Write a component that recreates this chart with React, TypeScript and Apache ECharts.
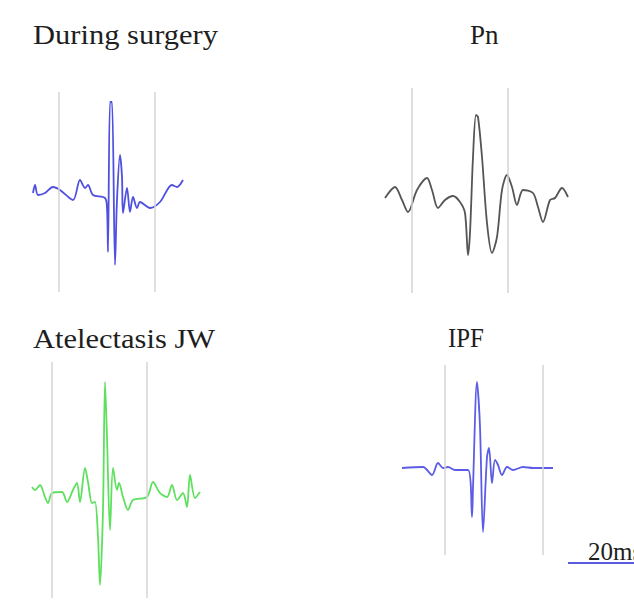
import React, { useEffect, useRef } from "react";
import * as echarts from "echarts";

// Waveforms: [time offset from left reference line, amplitude above baseline] (arbitrary units)
const surgeryWave: number[][] = [
  [-26, 0], [-24, 8], [-21, -2], [-14, 0], [-6, 6], [1, 3], [14, -7], [21, 13], [26, 5], [29, 8],
  [34, -2], [46, -5], [48, -15], [49, -59], [51, 91], [53, 91], [56, -72], [58, -7], [61, 38], [63, 16],
  [64, -20], [68, 5], [71, -19], [74, -4], [78, -15], [81, -9], [91, -15], [101, -9], [113, 8], [118, 6], [124, 13],
];
const pnWave: number[][] = [
  [-27, -1], [-17, 10], [-10, -3], [-4, -15], [5, 7], [15, 19], [20, 7], [26, -11], [33, -3], [41, 1],
  [48, -5], [53, -16], [56, -58], [58, -36], [61, 40], [64, 82], [66, 80], [70, 40], [75, -26], [80, -56],
  [85, -40], [90, 7], [95, 22], [100, 10], [105, -8], [111, 7], [121, 4], [126, -10], [131, -25], [138, -3],
  [143, -1], [150, 9], [156, 0],
];
const atelectasisWave: number[][] = [
  [-20, 6], [-17, 3], [-12, 8], [-7, -4], [-4, -10], [0, 0], [10, 1], [15, -9], [21, 3], [25, 10],
  [28, -9], [33, 25], [36, 11], [40, -10], [43, -9], [46, -44], [48, -92], [51, -17], [53, 111], [55, 56],
  [58, -37], [61, 25], [65, 3], [67, 10], [71, -4], [76, -17], [81, -7], [95, -4], [101, 11], [108, 0],
  [115, -4], [120, 8], [125, -7], [131, 0], [135, -14], [138, 18], [143, -5], [148, 1],
];
const ipfWave: number[][] = [
  [-43, 0], [-22, 1], [-13, -7], [-7, 5], [-2, 0], [3, 1], [10, -2], [23, -2], [27, -49], [28, -19],
  [32, 86], [35, 41], [38, -64], [42, 11], [44, 20], [47, -15], [50, 8], [53, 3], [57, -7], [62, 1],
  [68, -2], [78, 1], [88, 0], [108, 0],
];

const panelTitles = ["During surgery", "Pn", "Atelectasis JW", "IPF"];
const referenceLines: number[][] = [[0, 96], [0, 96], [0, 95], [0, 98]];
const scaleBarLabel = "20ms";

export default function App() {
  const ref = useRef<HTMLDivElement>(null);
  useEffect(() => {
    if (!ref.current) return;
    const chart = echarts.init(ref.current, null, { renderer: "svg" });
    const waves = [surgeryWave, pnWave, atelectasisWave, ipfWave];
    const colors = ["#4f4fe0", "#555555", "#5ee05e", "#5c5ce6"];
    const layout = [
      { lx: 59, base: 193, top: 92, bottom: 292 },
      { lx: 412, base: 197, top: 88, bottom: 293 },
      { lx: 52, base: 493, top: 362, bottom: 598 },
      { lx: 445, base: 468, top: 365, bottom: 555 },
    ];
    const grids: any[] = [];
    const xAxes: any[] = [];
    const yAxes: any[] = [];
    const series: any[] = [];
    waves.forEach((w, i) => {
      const L = layout[i];
      const xs = w.map((p) => p[0]);
      const tmin = Math.min(...xs, referenceLines[i][0]);
      const tmax = Math.max(...xs, referenceLines[i][1]);
      grids.push({
        left: L.lx + tmin,
        top: L.top,
        width: tmax - tmin,
        height: L.bottom - L.top,
        containLabel: false,
      });
      xAxes.push({ type: "value", gridIndex: i, min: tmin, max: tmax, show: false });
      yAxes.push({ type: "value", gridIndex: i, min: L.base - L.bottom, max: L.base - L.top, show: false });
      series.push({
        type: "line",
        xAxisIndex: i,
        yAxisIndex: i,
        data: w,
        showSymbol: false,
        smooth: 0.3,
        lineStyle: { color: colors[i], width: 1.8 },
        markLine: {
          silent: true,
          symbol: "none",
          label: { show: false },
          lineStyle: { color: "#d4d4d4", width: 1.5, type: "solid" },
          data: referenceLines[i].map((v) => ({ xAxis: v })),
        },
        z: 3,
      });
    });
    const font = { fontFamily: "Liberation Serif", fontSize: 27, fill: "#1e1e1e", fontWeight: "normal", verticalAlign: "top" };
    chart.setOption({
      animation: false,
      backgroundColor: "#ffffff",
      grid: grids,
      xAxis: xAxes,
      yAxis: yAxes,
      series,
      graphic: [
        { type: "text", x: 33, y: 21, scaleX: 1.13, style: { text: panelTitles[0], ...font } },
        { type: "text", x: 470, y: 21, style: { text: panelTitles[1], ...font } },
        { type: "text", x: 33, y: 325, scaleX: 1.13, style: { text: panelTitles[2], ...font } },
        { type: "text", x: 448, y: 325, scaleX: 0.92, style: { text: panelTitles[3], ...font } },
        { type: "text", x: 588, y: 539, style: { text: scaleBarLabel, ...font, fontSize: 25 } },
        { type: "line", shape: { x1: 568, y1: 563, x2: 640, y2: 563 }, style: { stroke: "#5c5ce0", lineWidth: 2 } },
      ],
    });
    return () => chart.dispose();
  }, []);
  return <div ref={ref} style={{ width: 634, height: 603, position: "absolute", left: 0, top: 0 }} />;
}
